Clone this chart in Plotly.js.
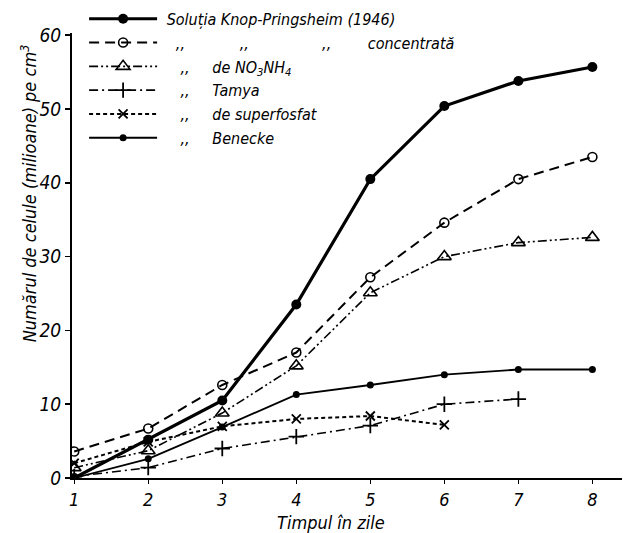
<!DOCTYPE html>
<html>
<head>
<meta charset="utf-8">
<script src="https://cdn.plot.ly/plotly-3.0.1.min.js"></script>
<style>html,body{margin:0;padding:0;background:#fff;}#chart{width:623px;height:533px;}</style>
</head>
<body>
<div id="chart"></div>
<script>
var days = [1, 2, 3, 4, 5, 6, 7, 8];
var daysTamya = [1, 2, 3, 4, 5, 6, 7];
var daysSuper = [1, 2, 3, 4, 5, 6];

var knop = [0, 5.2, 10.5, 23.5, 40.5, 50.4, 53.8, 55.7];
var knopConc = [3.6, 6.7, 12.6, 17.0, 27.2, 34.6, 40.5, 43.5];
var no3nh4 = [1.4, 3.7, 8.8, 15.2, 25.1, 30.0, 31.9, 32.6];
var tamya = [0.2, 1.4, 4.0, 5.6, 7.1, 10.0, 10.7];
var superfosfat = [2.0, 4.9, 7.0, 8.0, 8.4, 7.2];
var benecke = [0, 2.6, 6.9, 11.3, 12.6, 14.0, 14.7, 14.7];

var NB = '\u00A0';
function sp(n) { return new Array(n + 1).join(NB); }
var seriesNames = [
  sp(1) + "Soluția Knop-Pringsheim (1946)",
  sp(3) + ",," + sp(12) + ",," + sp(16) + ",," + sp(8) + "concentrată",
  sp(4) + ",," + sp(5) + "de NO<sub>3</sub>NH<sub>4</sub>",
  sp(4) + ",," + sp(5) + "Tamya",
  sp(4) + ",," + sp(5) + "de superfosfat",
  sp(4) + ",," + sp(5) + "Benecke"
];
var xTickLabels = ["1", "2", "3", "4", "5", "6", "7", "8"];
var yTickValues = [0, 10, 20, 30, 40, 50, 60];

var FONT = '"DejaVu Sans Condensed", "Liberation Sans Narrow", "Liberation Sans", sans-serif';

var traces = [
  {x: days, y: knop, name: seriesNames[0], mode: 'lines+markers',
   line: {color: '#000', width: 3.2},
   marker: {symbol: 'circle', size: 10, color: '#000'}},
  {x: days, y: knopConc, name: seriesNames[1], mode: 'lines+markers',
   line: {color: '#000', width: 2, dash: '10px,6px'},
   marker: {symbol: 'circle-open', size: 9, color: '#000', line: {width: 1.6, color: '#000'}}},
  {x: days, y: no3nh4, name: seriesNames[2], mode: 'lines+markers',
   line: {color: '#000', width: 1.6, dash: '9px,3px,2px,3px,2px,3px'},
   marker: {symbol: 'triangle-up-open', size: 12, color: '#000', line: {width: 1.6, color: '#000'}}},
  {x: daysTamya, y: tamya, name: seriesNames[3], mode: 'lines+markers',
   line: {color: '#000', width: 1.6, dash: '9px,4px,2px,4px'},
   marker: {symbol: 'cross-thin-open', size: 11, color: '#000', line: {width: 1.8, color: '#000'}}},
  {x: daysSuper, y: superfosfat, name: seriesNames[4], mode: 'lines+markers',
   line: {color: '#000', width: 2, dash: '4px,3px'},
   marker: {symbol: 'x-thin-open', size: 9, color: '#000', line: {width: 1.8, color: '#000'}}},
  {x: days, y: benecke, name: seriesNames[5], mode: 'lines+markers',
   line: {color: '#000', width: 1.8},
   marker: {symbol: 'circle', size: 7, color: '#000'}}
];

var layout = {
  width: 623, height: 533,
  margin: {l: 72, r: 1, t: 33, b: 55},
  paper_bgcolor: '#fff', plot_bgcolor: '#fff',
  font: {family: FONT, color: '#000', size: 17, style: 'italic'},
  showlegend: true,
  legend: {
    x: 0.022, y: 1.07, xanchor: 'left', yanchor: 'top',
    bgcolor: 'rgba(0,0,0,0)', borderwidth: 0,
    font: {family: FONT, size: 16, color: '#000', style: 'italic'},
    itemwidth: 68, tracegroupgap: 0, traceorder: 'normal'
  },
  xaxis: {
    range: [0.97, 8.4], tickmode: 'array', tickvals: days, ticktext: xTickLabels,
    showgrid: false, zeroline: false, showline: true, linecolor: '#000', linewidth: 2,
    ticks: 'outside', ticklen: 4, tickwidth: 1, tickcolor: '#000',
    tickfont: {family: FONT, size: 18, color: '#000', style: 'italic'}
  },
  yaxis: {
    range: [0, 60.3], tickmode: 'array', tickvals: yTickValues,
    showgrid: false, zeroline: false, showline: true, linecolor: '#000', linewidth: 2,
    ticks: 'outside', ticklen: 5, tickwidth: 1.5, tickcolor: '#000',
    tickfont: {family: FONT, size: 19, color: '#000', style: 'italic'}
  },
  annotations: [
    {text: 'Numărul de celule (milioane) pe cm<sup>3</sup>', xref: 'paper', yref: 'paper',
     x: -0.078, y: 0.64, textangle: -90, showarrow: false, xanchor: 'center', yanchor: 'middle',
     font: {family: FONT, size: 18, color: '#000', style: 'italic'}},
    {text: 'Timpul în zile', xref: 'paper', yref: 'paper',
     x: 0.47, y: -0.099, showarrow: false, xanchor: 'center', yanchor: 'middle',
     font: {family: FONT, size: 18, color: '#000', style: 'italic'}}
  ]
};

Plotly.newPlot('chart', traces, layout, {displayModeBar: false, staticPlot: true});
</script>
</body>
</html>
